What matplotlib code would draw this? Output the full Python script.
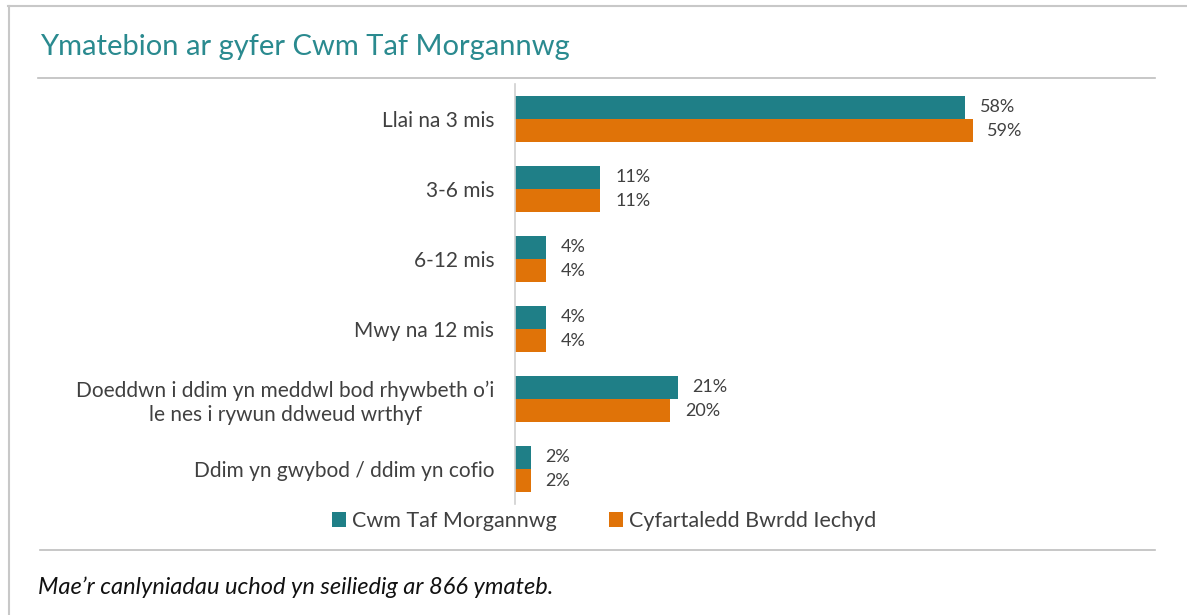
import matplotlib
matplotlib.use("Agg")
import matplotlib.pyplot as plt
import numpy as np

categories = [
    "Llai na 3 mis",
    "3-6 mis",
    "6-12 mis",
    "Mwy na 12 mis",
    "Doeddwn i ddim yn meddwl bod rhywbeth o\u2019i\nle nes i rywun ddweud wrthyf",
    "Ddim yn gwybod / ddim yn cofio",
]
cwm_taf = [58, 11, 4, 4, 21, 2]
bwrdd = [59, 11, 4, 4, 20, 2]
series_names = ["Cwm Taf Morgannwg", "Cyfartaledd Bwrdd Iechyd"]

TEAL = "#1F7F87"
ORANGE = "#E07308"
GREY = "#404040"
FONT = ["Lato", "DejaVu Sans"]

plt.rcParams["font.family"] = FONT

fig = plt.figure(figsize=(11.87, 6.15), dpi=100)

# frame lines and separators
fig.add_artist(plt.Line2D([8 / 1187, 1], [1 - 6 / 615] * 2, color="#c8c8c8", lw=1.5))
fig.add_artist(plt.Line2D([8.5 / 1187] * 2, [0, 1 - 6 / 615], color="#c8c8c8", lw=1.5))
fig.add_artist(plt.Line2D([38 / 1187, 1155 / 1187], [1 - 78 / 615] * 2, color="#bdbdbd", lw=1.2))
fig.add_artist(plt.Line2D([40 / 1187, 1155 / 1187], [1 - 550 / 615] * 2, color="#bdbdbd", lw=1.2))

fig.text(40 / 1187, 1 - 47 / 615, "Ymatebion ar gyfer Cwm Taf Morgannwg",
         color="#2A8A8F", fontsize=21, va="center", ha="left")

ax = fig.add_axes([515 / 1187, 1 - 504 / 615, (1151 - 515) / 1187, 420 / 615])

y = np.arange(len(categories))
h = 0.33
b1 = ax.barh(y - h / 2, cwm_taf, height=h, color=TEAL, label=series_names[0])
b2 = ax.barh(y + h / 2, bwrdd, height=h, color=ORANGE, label=series_names[1])

for bars, vals in ((b1, cwm_taf), (b2, bwrdd)):
    for bar, v in zip(bars, vals):
        ax.text(bar.get_width() + 1.9, bar.get_y() + bar.get_height() / 2,
                f"{v}%", va="center", ha="left", color=GREY, fontsize=13)

ax.set_xlim(0, 82)
ax.set_ylim(len(categories) - 0.5, -0.5)
ax.set_yticks(y)
ax.set_yticklabels(categories, fontsize=15, color=GREY, linespacing=1.25,
                   multialignment="center")
ax.tick_params(axis="y", length=0, pad=15)
ax.set_xticks([])
for s in ("top", "right", "bottom"):
    ax.spines[s].set_visible(False)
ax.spines["left"].set_color("#d0d0d0")
ax.spines["left"].set_linewidth(1.2)

fig.legend(handles=[b1, b2], labels=series_names, loc="center",
           bbox_to_anchor=(604 / 1187, 1 - 521 / 615), ncol=2, frameon=False,
           fontsize=15.5, handlelength=0.65, handleheight=0.65, handletextpad=0.3,
           columnspacing=2.4, labelcolor=GREY)

fig.text(38 / 1187, 1 - 587 / 615,
         "Mae\u2019r canlyniadau uchod yn seiliedig ar 866 ymateb.",
         fontsize=17, style="italic", color="#111111", va="center", ha="left")

fig.savefig("out.png", dpi=100)
